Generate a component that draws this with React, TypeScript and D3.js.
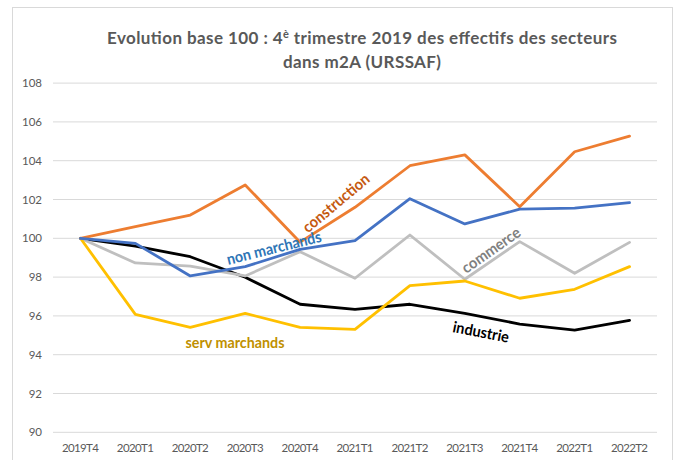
import * as d3 from "d3";

const QUARTERS = [
  "2019T4", "2020T1", "2020T2", "2020T3", "2020T4", "2021T1",
  "2021T2", "2021T3", "2021T4", "2022T1", "2022T2",
];

const construction = [100, 100.6, 101.2, 102.75, 99.8, 101.6, 103.74, 104.3, 101.63, 104.46, 105.27];
const nonMarchands = [100, 99.74, 98.06, 98.54, 99.43, 99.88, 102.04, 100.74, 101.5, 101.56, 101.84];
const commerce = [100, 98.73, 98.57, 98.06, 99.31, 97.94, 100.17, 97.89, 99.83, 98.2, 99.79];
const industrie = [100, 99.6, 99.05, 97.99, 96.6, 96.34, 96.6, 96.13, 95.58, 95.27, 95.77];
const servMarchands = [100, 96.08, 95.41, 96.13, 95.41, 95.31, 97.56, 97.8, 96.91, 97.37, 98.54];

const Y_TICKS = [90, 92, 94, 96, 98, 100, 102, 104, 106, 108];

// drawing order: last one is on top
const SERIES = [
  { name: "industrie", values: industrie, color: "#000000" },
  { name: "commerce", values: commerce, color: "#BFBFBF" },
  { name: "serv marchands", values: servMarchands, color: "#FFC000" },
  { name: "construction", values: construction, color: "#ED7D31" },
  { name: "non marchands", values: nonMarchands, color: "#4472C4" },
];

const LABELS = [
  { text: "construction", x: 336, y: 203, angle: -40, color: "#C55A11", len: 82 },
  { text: "non marchands", x: 274, y: 248, angle: -14, color: "#2E75B6", len: 97 },
  { text: "commerce", x: 491, y: 250, angle: -35, color: "#7F7F7F", len: 68 },
  { text: "industrie", x: 481, y: 332, angle: 11, color: "#000000", len: 57 },
  { text: "serv marchands", x: 235, y: 343, angle: 0, color: "#BF9000", len: 99 },
];

const W = 677;
const H = 460;
const FONT = "Lato, 'Open Sans', sans-serif";

export default function App() {
  const x = d3.scaleBand<string>().domain(QUARTERS).range([53, 657]);
  const y = d3.scaleLinear().domain([90, 108]).range([432.3, 83.1]);
  const cx = (q: string) => (x(q) ?? 0) + x.bandwidth() / 2;

  const line = d3
    .line<number>()
    .x((_, i) => cx(QUARTERS[i]))
    .y((d) => y(d));

  return (
    <svg
      width={W}
      height={H}
      style={{ position: "absolute", left: 0, top: 0, background: "#fff" }}
      fontFamily={FONT}
    >
      <rect x={0} y={0} width={W} height={H} fill="#fff" />
      <rect x={12.5} y={7.5} width={660} height={470} fill="none" stroke="#D9D9D9" />

      <text x={362} y={44} textAnchor="middle" fontSize={17} fontWeight="bold" fill="#595959" textLength={510}>
        Evolution base 100 : 4<tspan fontSize={11} dy={-6}>è</tspan>
        <tspan dy={6}> trimestre 2019 des effectifs des secteurs</tspan>
      </text>
      <text x={362} y={68} textAnchor="middle" fontSize={17} fontWeight="bold" fill="#595959" textLength={158}>
        dans m2A (URSSAF)
      </text>

      {Y_TICKS.map((t) => (
        <g key={t}>
          <line x1={53} x2={657} y1={y(t)} y2={y(t)} stroke="#D9D9D9" strokeWidth={1} />
          <text x={42} y={y(t)} dy="0.35em" textAnchor="end" fontSize={11.5} fill="#595959">
            {t}
          </text>
        </g>
      ))}

      {QUARTERS.map((q) => (
        <text key={q} x={cx(q)} y={452} textAnchor="middle" fontSize={11.5} fill="#595959" textLength={37}>
          {q}
        </text>
      ))}

      {SERIES.map((s) => (
        <path
          key={s.name}
          d={line(s.values) ?? ""}
          fill="none"
          stroke={s.color}
          strokeWidth={2.8}
          strokeLinejoin="round"
          strokeLinecap="round"
        />
      ))}

      {LABELS.map((l) => (
        <text
          key={l.text}
          transform={`translate(${l.x},${l.y}) rotate(${l.angle})`}
          textAnchor="middle"
          dy="0.35em"
          fontSize={15.5}
          fontWeight="bold"
          fill={l.color}
          textLength={l.len}
          lengthAdjust="spacingAndGlyphs"
        >
          {l.text}
        </text>
      ))}
    </svg>
  );
}
